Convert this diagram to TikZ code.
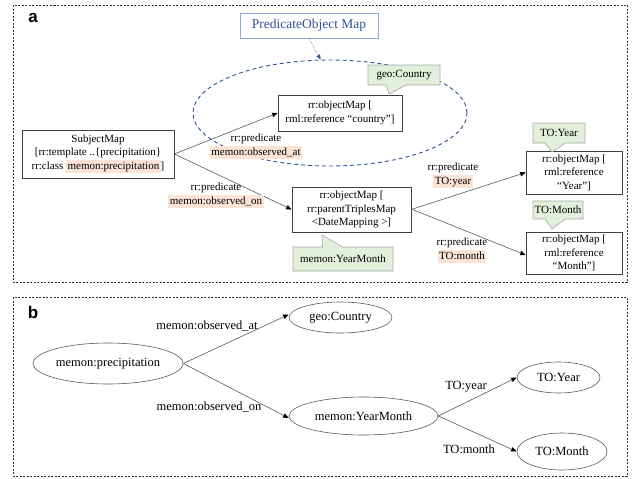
\documentclass[tikz,border=0pt]{standalone}
\usepackage{fontspec}
\setmainfont{Liberation Serif}
\setsansfont{Liberation Sans}
\usetikzlibrary{arrows.meta,shapes.geometric,shapes.callouts}

\definecolor{hlpeach}{HTML}{FBE4D6}
\definecolor{notegreen}{HTML}{E2EFDA}
\definecolor{noteedge}{HTML}{A6A6A6}
\definecolor{pomblue}{HTML}{2F5597}
\definecolor{pomedge}{HTML}{8FAADC}
\definecolor{lineg}{HTML}{595959}

% peach highlight behind an ontology term
\newcommand{\hlterm}[1]{{\setlength{\fboxsep}{1.5pt}\colorbox{hlpeach}{\vphantom{(}#1}}}

\begin{document}
\begin{tikzpicture}[x=1pt,y=-1pt,
  panel/.style={draw=black!80, line width=0.7pt, dash pattern=on 2pt off 1.5pt},
  panellabel/.style={font=\sffamily\bfseries\fontsize{17}{17}\selectfont, inner sep=0},
  mapbox/.style={draw=black!75, line width=0.6pt, fill=white, align=center,
    font=\fontsize{11}{13.5}\selectfont, inner sep=0},
  tag/.style={rectangle callout, draw=noteedge, fill=notegreen, line width=0.6pt,
    font=\fontsize{11}{12}\selectfont, inner sep=0, callout pointer width=20pt},
  predlabel/.style={align=center, font=\fontsize{11}{13.5}\selectfont, inner sep=0},
  link/.style={draw=lineg, line width=0.6pt,
    -{Triangle[length=5.5pt,width=4.5pt,color=black]}},
  concept/.style={ellipse, draw=lineg, line width=0.6pt, inner sep=0,
    font=\fontsize{12.5}{14}\selectfont},
  edgelabel/.style={inner sep=0, font=\fontsize{12.5}{14}\selectfont}]

\useasboundingbox (0,0) rectangle (635,479);

% ---------------- panel a: mapping ----------------
\draw[panel] (13,5) rectangle (627,282);
\node[panellabel] (la) at (33,18) {a};

% predicate-object group
\node[ellipse, draw=pomblue, line width=0.9pt, dash pattern=on 4pt off 3pt,
  minimum width=274pt, minimum height=106pt, inner sep=0] (group) at (330,113) {};
\node[draw=pomedge, line width=0.6pt, fill=white, text=pomblue,
  font=\fontsize{13.5}{15}\selectfont, minimum width=138pt, minimum height=25pt,
  inner sep=0] (pom) at (309,25.5) {PredicateObject Map};
\draw[pomblue, line width=0.5pt, densely dotted,
  -{Triangle[length=5pt,width=4pt]}] (pom.south) -- (group.100);

\node[mapbox, minimum width=152pt, minimum height=48pt] (sm) at (98,154)
  {SubjectMap\\{[}rr:template ..\{precipitation\}\\rr:class \hlterm{memon:precipitation}]};
\node[mapbox, minimum width=124pt, minimum height=36pt] (country) at (340,113)
  {rr:objectMap [\\rml:reference “country"]};
\node[mapbox, minimum width=119pt, minimum height=45pt] (dm) at (351.5,209.5)
  {rr:objectMap [\\rr:parentTriplesMap\\<DateMapping >]};
\node[mapbox, minimum width=96pt, minimum height=43pt] (year) at (574,172.5)
  {rr:objectMap [\\rml:reference\\“Year"]};
\node[mapbox, minimum width=96pt, minimum height=42pt] (month) at (574,253)
  {rr:objectMap [\\rml:reference\\“Month"]};

% class tags
\node[tag, minimum width=72pt, minimum height=20pt, callout absolute pointer={(389,94)}]
  (tagcountry) at (404,75) {geo:Country};
\node[tag, minimum width=52pt, minimum height=20pt, callout absolute pointer={(552,152)}]
  (tagyear) at (559,133) {TO:Year};
\node[tag, minimum width=50pt, minimum height=18pt, callout absolute pointer={(552,229)}]
  (tagmonth) at (558,210) {TO:Month};
\node[tag, minimum width=100pt, minimum height=24pt, callout absolute pointer={(322,235)}]
  (tagym) at (343,259) {memon:YearMonth};

% predicate links
\draw[link] (sm.east) -- (country.west);
\draw[link] (sm.east) -- (dm.west);
\draw[link] (dm.east) -- (year.west);
\draw[link] ([yshift=0.5pt]dm.east) -- ([yshift=-2pt]month.west);

\node[predlabel] (pa) at (256,146.5) {rr:predicate\\\hlterm{memon:observed\_at}};
\node[predlabel] (pb) at (216,195.5) {rr:predicate\\\hlterm{memon:observed\_on}};
\node[predlabel] (pc) at (453,175.5) {rr:predicate\\\hlterm{TO:year}};
\node[predlabel] (pd) at (462,250.5) {rr:predicate\\\hlterm{TO:month}};

% ---------------- panel b: resulting graph ----------------
\draw[panel] (13,297) rectangle (627,476);
\node[panellabel] (lb) at (33,312) {b};

\node[concept, minimum width=150pt, minimum height=41pt] (prec) at (108,363.5) {memon:precipitation};
\node[concept, minimum width=103pt, minimum height=31pt] (geo) at (340.5,317.5) {geo:Country};
\node[concept, minimum width=149pt, minimum height=38pt] (ym) at (363.5,416) {memon:YearMonth};
\node[concept, minimum width=83pt, minimum height=31pt] (toyear) at (558.5,377.5) {TO:Year};
\node[concept, minimum width=90pt, minimum height=37pt] (tomonth) at (562,451.5) {TO:Month};

\draw[link] (prec.east) -- ([yshift=3pt]geo.west);
\draw[link] (prec.east) -- ([yshift=-2pt]ym.west);
\draw[link] (ym.east) -- (toyear.west);
\draw[link] (ym.east) -- (tomonth.west);

\node[edgelabel] (ea) at (207,326) {memon:observed\_at};
\node[edgelabel] (eb) at (209,407) {memon:observed\_on};
\node[edgelabel] (ec) at (466,387) {TO:year};
\node[edgelabel] (ed) at (469,449.5) {TO:month};

\end{tikzpicture}
\end{document}
